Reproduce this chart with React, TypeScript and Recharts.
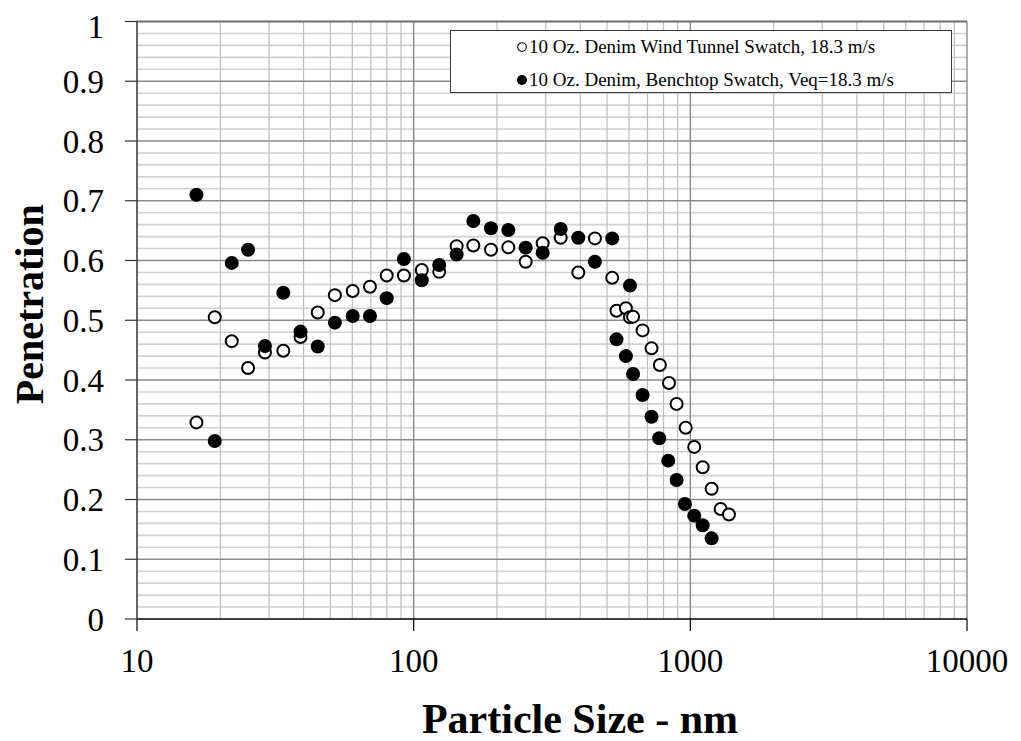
import React from 'react';
import { ScatterChart, Scatter, XAxis, YAxis, ReferenceLine, Legend, Label } from 'recharts';

const xWind = [16.4, 19.1, 22.0, 25.2, 29.0, 33.8, 39.0, 45.0, 51.9, 60.2, 69.5, 79.9, 92.2, 107, 123.7, 143, 164.3, 190.3, 219.8, 254, 292.6, 340, 393.6, 452, 522, 541, 585, 605, 621, 672, 724, 776, 837, 892, 962, 1033, 1108, 1194, 1287, 1379];
const yWind = [0.329, 0.505, 0.465, 0.420, 0.446, 0.449, 0.472, 0.513, 0.542, 0.549, 0.556, 0.575, 0.575, 0.584, 0.581, 0.624, 0.625, 0.618, 0.622, 0.598, 0.629, 0.638, 0.580, 0.637, 0.571, 0.516, 0.520, 0.505, 0.506, 0.483, 0.453, 0.425, 0.395, 0.360, 0.320, 0.288, 0.254, 0.218, 0.184, 0.175];

const xBench = [16.4, 19.1, 22.0, 25.2, 29.0, 33.8, 39.0, 45.0, 51.9, 60.2, 69.5, 79.9, 92.2, 107, 123.7, 143, 164.3, 190.3, 219.8, 254, 292.6, 340, 393.6, 452, 522, 541, 585, 605, 621, 672, 724, 772, 832, 892, 956, 1033, 1108, 1194];
const yBench = [0.710, 0.298, 0.596, 0.618, 0.457, 0.546, 0.481, 0.456, 0.496, 0.507, 0.507, 0.537, 0.6025, 0.567, 0.5925, 0.610, 0.666, 0.654, 0.651, 0.6215, 0.613, 0.6527, 0.638, 0.598, 0.637, 0.468, 0.440, 0.558, 0.410, 0.375, 0.3386, 0.3024, 0.265, 0.2326, 0.1925, 0.173, 0.157, 0.135];

const seriesNames = ['10 Oz. Denim Wind Tunnel Swatch, 18.3 m/s', '10 Oz. Denim, Benchtop Swatch, Veq=18.3 m/s'];

const xTicks = [10, 100, 1000, 10000];
const yTicks = [0, 0.1, 0.2, 0.3, 0.4, 0.5, 0.6, 0.7, 0.8, 0.9, 1];
const xMinorGrid = [20, 30, 40, 50, 60, 70, 80, 90, 200, 300, 400, 500, 600, 700, 800, 900, 2000, 3000, 4000, 5000, 6000, 7000, 8000, 9000];
const xMajorGrid = [100, 1000, 10000];
const yMinorGrid = [0.02, 0.04, 0.06, 0.08, 0.12, 0.14, 0.16, 0.18, 0.22, 0.24, 0.26, 0.28, 0.32, 0.34, 0.36, 0.38, 0.42, 0.44, 0.46, 0.48, 0.52, 0.54, 0.56, 0.58, 0.62, 0.64, 0.66, 0.68, 0.72, 0.74, 0.76, 0.78, 0.82, 0.84, 0.86, 0.88, 0.92, 0.94, 0.96, 0.98];
const yMajorGrid = [0.1, 0.2, 0.3, 0.4, 0.5, 0.6, 0.7, 0.8, 0.9];

const windData = xWind.map((x, i) => ({ x, y: yWind[i] }));
const benchData = xBench.map((x, i) => ({ x, y: yBench[i] }));

const FONT = '"Liberation Serif", "Times New Roman", serif';

const OpenDot = (props: any) => (
  <circle cx={props.cx} cy={props.cy} r={6} fill="#fff" stroke="#000" strokeWidth={2} />
);
const FilledDot = (props: any) => (
  <circle cx={props.cx} cy={props.cy} r={7} fill="#000" stroke="none" />
);

const renderLegend = () => (
  <div
    style={{
      width: 502,
      height: 63,
      boxSizing: 'border-box',
      border: '1.5px solid #3a3a3a',
      background: '#fff',
      fontFamily: FONT,
      fontSize: 19,
      color: '#000',
      position: 'relative',
    }}
  >
    {seriesNames.map((name, i) => (
      <div
        key={name}
        style={{
          position: 'absolute',
          left: 65,
          top: i === 0 ? 5 : 38,
          height: 22,
          display: 'flex',
          alignItems: 'center',
          whiteSpace: 'nowrap',
        }}
      >
        <svg width={12} height={12} style={{ marginRight: 1 }}>
          {i === 0 ? (
            <circle cx={6} cy={6} r={4.3} fill="#fff" stroke="#000" strokeWidth={1.1} />
          ) : (
            <circle cx={6} cy={6} r={5} fill="#000" />
          )}
        </svg>
        <span>{name}</span>
      </div>
    ))}
  </div>
);

export default function App() {
  return (
    <ScatterChart
      width={1013}
      height={733}
      margin={{ top: 13.5, right: 54, bottom: 0, left: 0 }}
    >
      <XAxis
        type="number"
        dataKey="x"
        scale="log"
        domain={[10, 10000]}
        ticks={xTicks}
        allowDataOverflow
        height={122}
        tickSize={12}
        tickMargin={18}
        stroke="#000"
        strokeWidth={1.5}
        tick={{ fontFamily: FONT, fontSize: 33, fill: '#000' }}
        tickLine={{ stroke: '#000', strokeWidth: 1.2 }}
      >
        <Label
          value="Particle Size - nm"
          position="insideBottom"
          offset={8}
          dx={28}
          style={{ fontFamily: FONT, fontSize: 42, fontWeight: 'bold', fill: '#000' }}
        />
      </XAxis>
      <YAxis
        type="number"
        dataKey="y"
        domain={[0, 1]}
        ticks={yTicks}
        width={129}
        tickSize={12}
        tickMargin={21}
        stroke="#333"
        strokeWidth={1.5}
        tick={{ fontFamily: FONT, fontSize: 33, fill: '#000' }}
        tickLine={{ stroke: '#333', strokeWidth: 1.2 }}
        tickFormatter={(v: number) => String(v)}
      >
        <Label
          value="Penetration"
          position="insideLeft"
          angle={-90}
          offset={21}
          dy={-16}
          style={{ fontFamily: FONT, fontSize: 40, fontWeight: 'bold', fill: '#000', textAnchor: 'middle' }}
        />
      </YAxis>
      {yMinorGrid.map((v) => (
        <ReferenceLine key={'ym' + v} y={v} stroke="#d2d2d2" strokeWidth={1.6} />
      ))}
      {xMinorGrid.map((v) => (
        <ReferenceLine key={'xm' + v} x={v} stroke="#bdbdbd" strokeWidth={1.2} />
      ))}
      {yMajorGrid.map((v) => (
        <ReferenceLine key={'yM' + v} y={v} stroke="#8a8a8a" strokeWidth={1.4} />
      ))}
      {xMajorGrid.map((v) => (
        <ReferenceLine key={'xM' + v} x={v} stroke="#8a8a8a" strokeWidth={1.4} />
      ))}
      <ReferenceLine y={1} stroke="#6e6e6e" strokeWidth={2.2} />
      <Legend
        layout="vertical"
        align="center"
        verticalAlign="middle"
        wrapperStyle={{ top: 22, left: 442, width: 502, height: 63 }}
        content={renderLegend}
      />
      <Scatter name={seriesNames[0]} data={windData} shape={OpenDot} isAnimationActive={false} />
      <Scatter name={seriesNames[1]} data={benchData} shape={FilledDot} isAnimationActive={false} />
    </ScatterChart>
  );
}
